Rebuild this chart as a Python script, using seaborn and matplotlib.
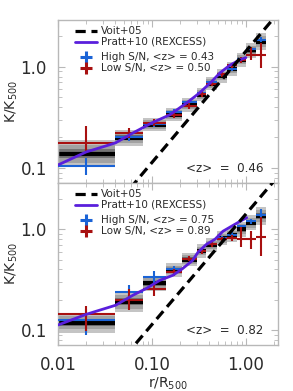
"""Entropy profiles K/K500 vs r/R500 for two redshift bins."""

import matplotlib

matplotlib.use("Agg")
import matplotlib.pyplot as plt
import numpy as np
import pandas as pd
import seaborn as sns

# radial bin edges (r/R500)
BIN_EDGES = [0.01, 0.04, 0.08, 0.14, 0.21, 0.30, 0.38, 0.49, 0.63, 0.80, 1.0, 1.28, 1.65]

# Voit+05 baseline (straight line in log-log)
VOIT_R = [0.01, 3.0]
VOIT_K = [0.009, 4.76]

# low-z panel
TOP_MEAN = [0.138, 0.198, 0.267, 0.335, 0.42, 0.53, 0.68, 0.81, 0.95, 1.17, 1.45, 1.77]
TOP_SIG = [0.045, 0.025, 0.022, 0.022, 0.022, 0.022, 0.022, 0.022, 0.022, 0.022, 0.024, 0.028]
TOP_HI = [0.105, 0.203, 0.27, 0.36, 0.45, 0.55, 0.70, 0.83, 0.95, 1.18, 1.50, 1.85]
TOP_HI_ERR = [0.02, 0.02, 0.015, 0.02, 0.02, 0.025, 0.03, 0.035, 0.04, 0.05, 0.06, 0.10]
TOP_LO = [0.177, 0.222, 0.28, 0.335, 0.41, 0.54, 0.68, 0.85, 1.03, 1.17, 1.31, 1.31]
TOP_LO_ERR_DN = [0.036, 0.025, 0.02, 0.025, 0.03, 0.035, 0.04, 0.05, 0.06, 0.07, 0.14, 0.33]
TOP_LO_ERR_UP = [0.083, 0.028, 0.022, 0.028, 0.03, 0.035, 0.045, 0.05, 0.06, 0.08, 0.27, 0.42]
TOP_PRATT_R = [0.01, 0.02, 0.033, 0.041, 0.063, 0.10, 0.155, 0.235, 0.32, 0.43, 0.53, 0.67, 0.86, 1.0]
TOP_PRATT_K = [0.107, 0.144, 0.166, 0.177, 0.222, 0.279, 0.335, 0.44, 0.55, 0.71, 0.87, 1.03, 1.17, 1.23]

# high-z panel
BOT_MEAN = [0.118, 0.19, 0.29, 0.395, 0.50, 0.61, 0.70, 0.82, 0.88, 1.0, 1.17, 1.37]
BOT_SIG = [0.033, 0.035, 0.025, 0.022, 0.022, 0.022, 0.022, 0.022, 0.022, 0.025, 0.025, 0.03]
BOT_HI = [0.125, 0.24, 0.335, 0.40, 0.51, 0.61, 0.71, 0.83, 0.89, 1.07, 1.20, 1.40]
BOT_HI_ERR = [0.035, 0.04, 0.05, 0.03, 0.03, 0.03, 0.035, 0.04, 0.045, 0.05, 0.07, 0.2]
BOT_LO = [0.143, 0.198, 0.257, 0.375, 0.51, 0.61, 0.71, 0.80, 0.82, 0.80, 0.80, 0.85]
BOT_LO_ERR_DN = [0.045, 0.04, 0.037, 0.03, 0.03, 0.035, 0.04, 0.05, 0.06, 0.13, 0.16, 0.31]
BOT_LO_ERR_UP = [0.03, 0.06, 0.033, 0.03, 0.03, 0.035, 0.04, 0.05, 0.06, 0.25, 0.16, 0.49]
BOT_PRATT_R = [0.01, 0.02, 0.041, 0.063, 0.088, 0.12, 0.167, 0.21, 0.27, 0.31, 0.38, 0.47, 0.57, 0.86, 1.02]
BOT_PRATT_K = [0.112, 0.143, 0.176, 0.222, 0.26, 0.31, 0.35, 0.405, 0.49, 0.595, 0.71, 0.80, 0.96, 1.2, 1.31]

PANELS = [
    dict(mean=TOP_MEAN, sig=TOP_SIG, hi=TOP_HI, hi_err=TOP_HI_ERR,
         lo=TOP_LO, lo_dn=TOP_LO_ERR_DN, lo_up=TOP_LO_ERR_UP,
         pr=TOP_PRATT_R, pk=TOP_PRATT_K,
         hi_lab="High S/N, <z> = 0.43", lo_lab="Low S/N, <z> = 0.50",
         zlab="<z>  =  0.46"),
    dict(mean=BOT_MEAN, sig=BOT_SIG, hi=BOT_HI, hi_err=BOT_HI_ERR,
         lo=BOT_LO, lo_dn=BOT_LO_ERR_DN, lo_up=BOT_LO_ERR_UP,
         pr=BOT_PRATT_R, pk=BOT_PRATT_K,
         hi_lab="High S/N, <z> = 0.75", lo_lab="Low S/N, <z> = 0.89",
         zlab="<z>  =  0.82"),
]

BLUE = "#1a63d6"
RED = "#a81010"
PURPLE = "#5a1fdc"
GRAYS = ["#c4c4c4", "#a2a2a2", "#747474"]
FRAME = "#b8b8b8"
TEXT = "#2a2a2a"


def draw_panel(ax, p):
    edges = np.array(BIN_EDGES)
    lo_e, hi_e = edges[:-1], edges[1:]
    centers = np.sqrt(lo_e * hi_e)
    mean = np.array(p["mean"])
    sig = np.array(p["sig"])

    # stacked gray bands + black mean
    for k, col in zip([3, 2, 1], GRAYS):
        for a, b, m, s in zip(lo_e, hi_e, mean, sig):
            ax.fill_between([a, b], m * 10 ** (-k * s), m * 10 ** (k * s),
                            color=col, lw=0, zorder=1)
    ax.hlines(mean, lo_e, hi_e, color="black", lw=3, zorder=2)

    xerr = [centers - lo_e, hi_e - centers]
    ax.errorbar(centers, p["hi"], xerr=xerr, yerr=p["hi_err"], fmt="none",
                ecolor=BLUE, elinewidth=1.5, capsize=0, zorder=4)
    ax.errorbar(centers, p["lo"], xerr=xerr, yerr=[p["lo_dn"], p["lo_up"]],
                fmt="none", ecolor=RED, elinewidth=1.5, capsize=0, zorder=5)

    pratt = pd.DataFrame({"r": p["pr"], "K": p["pk"]})
    sns.lineplot(data=pratt, x="r", y="K", color=PURPLE, lw=2, ax=ax,
                 zorder=6, sort=False)
    voit = pd.DataFrame({"r": VOIT_R, "K": VOIT_K})
    sns.lineplot(data=voit, x="r", y="K", color="black", lw=2.3, ax=ax,
                 zorder=7, sort=False, dashes=False, linestyle=(0, (3.2, 1.8)))

    ax.set_xscale("log")
    ax.set_yscale("log")
    ax.set_xlim(0.01, 2.2)
    ax.set_ylim(0.071, 2.9)

    # hand-made legend
    tr = ax.transAxes
    fs = 7.5
    ax.plot([0.077, 0.177], [0.933, 0.933], transform=tr, color="black",
            lw=2.3, ls=(0, (3.2, 1.8)), zorder=8)
    ax.plot([0.077, 0.177], [0.865, 0.865], transform=tr, color=PURPLE,
            lw=2, zorder=8)
    ax.plot([0.127], [0.773], transform=tr, marker="+", ms=8, mew=2.2,
            color=BLUE, zorder=8)
    ax.plot([0.127], [0.705], transform=tr, marker="+", ms=8, mew=2.2,
            color=RED, zorder=8)
    for y, s in zip([0.933, 0.865, 0.773, 0.705],
                    ["Voit+05", "Pratt+10 (REXCESS)", p["hi_lab"], p["lo_lab"]]):
        ax.text(0.195, y, s, transform=tr, fontsize=fs, va="center",
                ha="left", color=TEXT)
    ax.text(0.935, 0.09, p["zlab"], transform=tr, fontsize=8.6,
            va="center", ha="right", color=TEXT)

    ax.set_yticks([0.1, 1.0])
    ax.set_yticklabels(["0.1", "1.0"])
    ax.tick_params(which="both", direction="in", top=True, right=True,
                   color=FRAME, labelsize=12, labelcolor=TEXT)
    ax.tick_params(which="major", length=5, width=0.8)
    ax.tick_params(which="minor", length=3, width=0.6)
    ax.tick_params(axis="y", pad=8)
    ax.tick_params(axis="x", pad=8)
    for sp in ax.spines.values():
        sp.set_color(FRAME)
        sp.set_linewidth(1)
    ax.set_ylabel("K/K$_\\mathregular{500}$", fontsize=10, color=TEXT)
    ax.yaxis.set_label_coords(-0.21, 0.5)
    ax.yaxis.label.set_va("center")


def main() -> None:
    sns.set_theme(style="ticks")
    plt.rcParams["font.family"] = ["DejaVu Sans"]
    fig = plt.figure(figsize=(2.93, 3.91), dpi=100)
    ax_top = fig.add_axes([0.198, 0.532, 0.751, 0.417])
    ax_bot = fig.add_axes([0.198, 0.118, 0.751, 0.414])
    for ax, p in zip([ax_top, ax_bot], PANELS):
        draw_panel(ax, p)

    ax_top.set_xticks([0.01, 0.1, 1.0])
    ax_top.set_xticklabels([])
    ax_top.set_xlabel("")
    ax_bot.set_xticks([0.01, 0.1, 1.0])
    ax_bot.set_xticklabels(["0.01", "0.10", "1.00"])
    ax_bot.set_xlabel("r/R$_\\mathregular{500}$", fontsize=10, color=TEXT)
    ax_bot.xaxis.set_label_coords(0.5, -0.19)
    ax_bot.xaxis.label.set_va("top")

    fig.savefig("out.png", dpi=100)
    plt.close(fig)


if __name__ == "__main__":
    main()
